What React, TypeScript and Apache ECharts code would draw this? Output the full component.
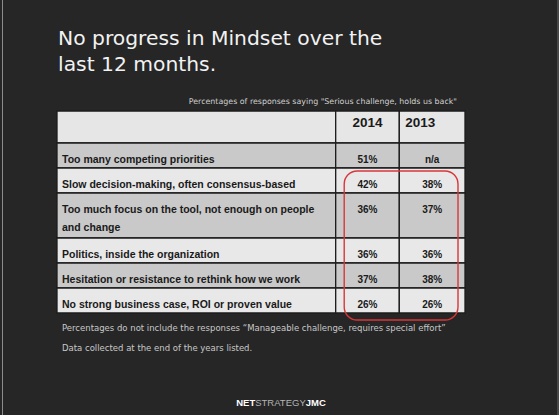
import { useEffect, useRef } from "react";
import * as echarts from "echarts";

const titleLines = ["No progress in Mindset over the", "last 12 months."];
const subtitle = "Percentages of responses saying \"Serious challenge, holds us back\"";
const years = ["2014", "2013"];
const challenges = [
  "Too many competing priorities",
  "Slow decision-making, often consensus-based",
  "Too much focus on the tool, not enough on people\nand change",
  "Politics, inside the organization",
  "Hesitation or resistance to rethink how we work",
  "No strong business case, ROI or proven value",
];
const values2014: (number | null)[] = [51, 42, 36, 36, 37, 26];
const values2013: (number | null)[] = [null, 38, 37, 36, 38, 26];
const footnotes = [
  "Percentages do not include the responses \u201cManageable challenge, requires special effort\u201d",
  "Data collected at the end of the years listed.",
];

// layout (px)
const colW = [278.7, 63.6, 65.7];
const headerH = 32;
const rowBaseH = 25;
const extraLineH = 20;

const fmt = (v: number | null) => (v == null ? "n/a" : v + "%");

function buildOption() {
  const colX = [0];
  colW.forEach((w) => colX.push(colX[colX.length - 1] + w));
  const rowH = [headerH, ...challenges.map((c) => rowBaseH + extraLineH * (c.split("\n").length - 1))];
  const rowY = [0];
  rowH.forEach((h) => rowY.push(rowY[rowY.length - 1] + h));
  const totalW = colX[colX.length - 1];
  const totalH = rowY[rowY.length - 1];

  const cells: number[][] = [];
  for (let r = 0; r < rowH.length; r++) {
    for (let c = 0; c < colW.length; c++) {
      cells.push([colX[c], colX[c + 1], rowY[r], rowY[r + 1], r, c]);
    }
  }
  const cellText = (r: number, c: number) => {
    if (r === 0) return c === 0 ? "" : years[c - 1];
    if (c === 0) return challenges[r - 1];
    return c === 1 ? fmt(values2014[r - 1]) : fmt(values2013[r - 1]);
  };

  // highlight region: rows with values in both years (excluding n/a)
  const firstBoth = values2013.findIndex((v, i) => v != null && values2014[i] != null) + 1;
  const highlight = [[colX[1], colX[3], rowY[firstBoth], rowY[rowY.length - 1]]];

  return {
    animation: false,
    backgroundColor: "#262626",
    grid: { left: 57, top: 111, width: totalW, height: totalH },
    xAxis: { type: "value", min: 0, max: totalW, show: false },
    yAxis: { type: "value", min: 0, max: totalH, inverse: true, show: false },
    graphic: [
      { type: "line", shape: { x1: 2.5, y1: 0, x2: 2.5, y2: 415 }, style: { stroke: "#8c8c8c", lineWidth: 1 } },
      { type: "line", shape: { x1: 558, y1: 0, x2: 558, y2: 415 }, style: { stroke: "#6a6a6a", lineWidth: 1 } },
      {
        type: "text",
        x: 58,
        y: 25,
        style: {
          text: titleLines.join("\n"),
          fill: "#f2f2f2",
          fontSize: 20.3,
          fontFamily: "DejaVu Sans",
          lineHeight: 26,
          textAlign: "left",
          textVerticalAlign: "top",
        },
      },
      {
        type: "text",
        x: 457,
        y: 101,
        style: {
          text: subtitle,
          fill: "#cfcfcf",
          fontSize: 7.9,
          fontFamily: "DejaVu Sans",
          textAlign: "right",
          textVerticalAlign: "middle",
        },
      },
      {
        type: "text",
        x: 62,
        y: 327.5,
        style: { text: footnotes[0], fill: "#c8c8c8", fontSize: 8.5, fontFamily: "DejaVu Sans", textAlign: "left", textVerticalAlign: "middle" },
      },
      {
        type: "text",
        x: 62,
        y: 347.5,
        style: { text: footnotes[1], fill: "#c8c8c8", fontSize: 8.5, fontFamily: "DejaVu Sans", textAlign: "left", textVerticalAlign: "middle" },
      },
      {
        type: "text",
        x: 281,
        y: 402.5,
        style: {
          text: "{a|NET}{b|STRATEGY}{a|JMC}",
          textAlign: "center",
          textVerticalAlign: "middle",
          rich: {
            a: { fill: "#ffffff", fontSize: 9.5, fontWeight: "bold", fontFamily: "Liberation Sans" },
            b: { fill: "#b4b4b4", fontSize: 9.5, fontFamily: "Liberation Sans" },
          },
        },
      },
    ],
    series: [
      {
        type: "custom",
        coordinateSystem: "cartesian2d",
        clip: false,
        data: cells,
        renderItem: (_params: any, api: any) => {
          const x0 = api.value(0), x1 = api.value(1), y0 = api.value(2), y1 = api.value(3);
          const r = api.value(4), c = api.value(5);
          const p0 = api.coord([x0, y0]);
          const p1 = api.coord([x1, y1]);
          const fill = r === 0 ? "#e6e6e6" : r % 2 === 1 ? "#c9c9c9" : "#e8e8e8";
          const text = cellText(r, c);
          let tx = p0[0] + 5;
          let align = "left";
          let ty = p0[1] + 7;
          let fontSize = 10.5;
          if (r === 0) {
            fontSize = 13.5;
            ty = p0[1] + 11.5 - 9;
            if (c === 1) {
              tx = (p0[0] + p1[0]) / 2;
              align = "center";
            } else {
              tx = p0[0] + 6;
            }
          } else if (c > 0) {
            fontSize = 10;
            tx = (p0[0] + p1[0]) / 2;
            align = "center";
          }
          return {
            type: "group",
            children: [
              {
                type: "rect",
                shape: { x: p0[0], y: p0[1], width: p1[0] - p0[0], height: p1[1] - p0[1] },
                style: { fill, stroke: "#1c1c1c", lineWidth: 1.3 },
              },
              {
                type: "text",
                style: {
                  text,
                  x: tx,
                  y: ty,
                  fill: "#1a1a1a",
                  fontSize,
                  fontWeight: "bold",
                  fontFamily: "Liberation Sans",
                  lineHeight: 18,
                  textAlign: align,
                  textVerticalAlign: "top",
                },
              },
            ],
          };
        },
      },
      {
        type: "custom",
        coordinateSystem: "cartesian2d",
        clip: false,
        z: 5,
        data: highlight,
        renderItem: (_params: any, api: any) => {
          const p0 = api.coord([api.value(0), api.value(2)]);
          const p1 = api.coord([api.value(1), api.value(3)]);
          const x = p0[0] + 8.5;
          const y = p0[1] + 3;
          return {
            type: "rect",
            shape: { x, y, width: p1[0] - 7 - x, height: p1[1] + 7 - y, r: 13 },
            style: { fill: "none", stroke: "#d9363a", lineWidth: 1.4 },
          };
        },
      },
    ],
  };
}

export default function App() {
  const ref = useRef<HTMLDivElement>(null);
  useEffect(() => {
    const chart = echarts.init(ref.current!, null, { renderer: "svg" });
    chart.setOption(buildOption() as any);
    return () => chart.dispose();
  }, []);
  return (
    <div
      ref={ref}
      style={{ position: "absolute", left: 0, top: 0, width: 559, height: 415, background: "#262626" }}
    />
  );
}
